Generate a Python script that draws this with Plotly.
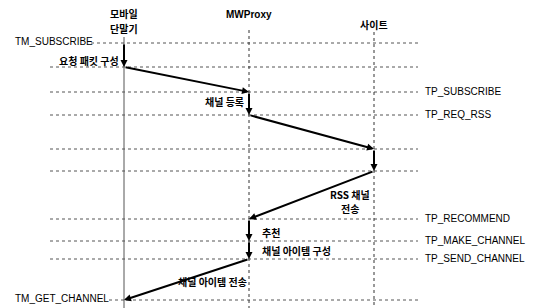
import plotly.graph_objects as go

# Lifelines (participants), header lines per participant
participants = [["모바일", "단말기"], ["MWProxy"], ["사이트"]]
lifeline_x = [124, 249, 374]

# Message levels (y in pixel-like units, top = 0)
levels = [43, 67, 92, 115, 149, 171, 219, 241, 259, 300]
level_names_left = {0: "TM_SUBSCRIBE", 9: "TM_GET_CHANNEL"}
level_names_right = {2: "TP_SUBSCRIBE", 3: "TP_REQ_RSS", 6: "TP_RECOMMEND",
                     7: "TP_MAKE_CHANNEL", 8: "TP_SEND_CHANNEL"}

# Flow steps: (from lifeline, from level, to lifeline, to level)
steps = [(0, 0, 0, 1), (0, 1, 1, 2), (1, 2, 1, 3), (1, 3, 2, 4), (2, 4, 2, 5),
         (2, 5, 1, 6), (1, 6, 1, 7), (1, 7, 1, 8), (1, 8, 0, 9)]

# Step labels (one entry per text line): text, x, y, anchor
step_labels = [
    ("요청 패킷 구성", 121, 60, "right"),
    ("채널 등록", 246, 101, "right"),
    ("RSS 채널", 350, 194, "center"),
    ("전송", 350, 208, "center"),
    ("추천", 260, 232, "left"),
    ("채널 아이템 구성", 260, 250, "left"),
    ("채널 아이템 전송", 249, 281, "right"),
]

FONT = "Noto Sans CJK KR"
LATIN = "Liberation Sans Narrow, Arial Narrow, Liberation Sans"
fig = go.Figure()
fig.add_trace(go.Scatter(x=[0], y=[0], mode="markers", marker=dict(opacity=0),
                         showlegend=False, hoverinfo="skip"))

shapes = []
# Horizontal dotted level lines
for i, y in enumerate(levels):
    x0 = 50
    if i == 0:
        x0 = 91
    if i == 9:
        x0 = 109
    shapes.append(dict(type="line", x0=x0, x1=418, y0=y, y1=y, xref="x", yref="y",
                       line=dict(color="#555555", width=1, dash="dot")))
# Lifelines
shapes.append(dict(type="line", x0=lifeline_x[0], x1=lifeline_x[0], y0=37, y1=308,
                   line=dict(color="#555555", width=1)))
shapes.append(dict(type="line", x0=lifeline_x[1], x1=lifeline_x[1], y0=30, y1=308,
                   line=dict(color="#333333", width=1, dash="dot")))
shapes.append(dict(type="line", x0=lifeline_x[2], x1=lifeline_x[2], y0=32, y1=308,
                   line=dict(color="#333333", width=1, dash="dot")))

annotations = []
# Participant headers
header_y = [[13, 28], [14], [24]]
for p, lines in enumerate(participants):
    for j, line in enumerate(lines):
        fam = LATIN if line.isascii() else FONT
        annotations.append(dict(x=lifeline_x[p], y=header_y[p][j], text="<b>" + line + "</b>",
                                showarrow=False, font=dict(family=fam, size=10, color="black"),
                                xanchor="center", yanchor="middle"))

# Level names
for i, name in level_names_left.items():
    annotations.append(dict(x=13, y=levels[i] - 2, text=name, showarrow=False,
                            font=dict(family=LATIN, size=10, color="black"),
                            xanchor="left", yanchor="middle"))
for i, name in level_names_right.items():
    annotations.append(dict(x=423, y=levels[i] - 1, text=name, showarrow=False,
                            font=dict(family=LATIN, size=10, color="black"),
                            xanchor="left", yanchor="middle"))

# Arrows
for a, la, b, lb in steps:
    annotations.append(dict(x=lifeline_x[b], y=levels[lb], ax=lifeline_x[a], ay=levels[la],
                            xref="x", yref="y", axref="x", ayref="y", text="", showarrow=True,
                            arrowhead=2, arrowsize=0.7, arrowwidth=2, arrowcolor="black", standoff=0))

# Step labels
for text, x, y, anchor in step_labels:
    annotations.append(dict(x=x, y=y, text="<b>" + text + "</b>", showarrow=False, align="center",
                            font=dict(family=FONT, size=10, color="black"),
                            xanchor=anchor, yanchor="middle"))

fig.update_layout(
    width=535, height=308, margin=dict(l=0, r=0, t=0, b=0),
    paper_bgcolor="white", plot_bgcolor="white",
    xaxis=dict(range=[0, 535], visible=False, fixedrange=True),
    yaxis=dict(range=[308, 0], visible=False, fixedrange=True),
    shapes=shapes, annotations=annotations, showlegend=False,
)

fig.write_html("out.html", config={"displayModeBar": False},
               post_script="document.body.style.margin='0';document.body.style.overflow='hidden';")
